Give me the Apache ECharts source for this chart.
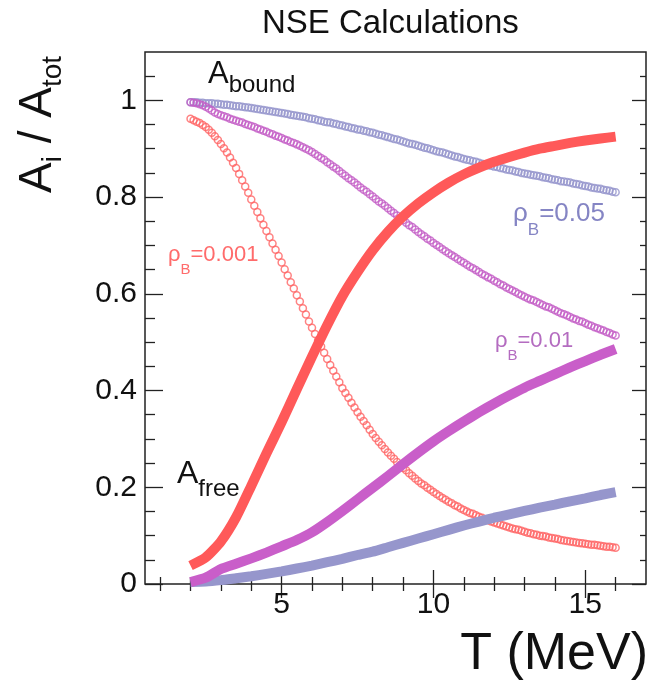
<!DOCTYPE html>
<html>
<head>
<meta charset="utf-8">
<script src="https://cdn.jsdelivr.net/npm/echarts@6/dist/echarts.min.js"></script>
<style>
  html, body { margin: 0; padding: 0; background: #fff; }
  #chart { width: 653px; height: 683px; }
</style>
</head>
<body>
<div id="chart"></div>
<script>
// ---- sampling grids (MeV) ----
const T_START = 2.0;
const BOUND_STEP = 0.1;   // bound-fraction curves, 141 samples
const FREE_STEP = 0.5;    // free-fraction curves, 29 samples

// ---- bound mass fraction A_bound / A_tot ----
const boundRho0001 = [
  0.962,0.959,0.956,0.953,0.949,0.945,
  0.939,0.933,0.926,0.918,0.910,
  0.901,0.892,0.882,0.871,0.860,
  0.848,0.835,0.822,0.809,0.795,
  0.782,0.769,0.756,0.743,0.730,
  0.717,0.704,0.691,0.678,0.665,
  0.651,0.638,0.624,0.611,0.597,
  0.584,0.570,0.557,0.543,0.530,
  0.517,0.504,0.491,0.478,0.465,
  0.453,0.441,0.429,0.417,0.405,
  0.395,0.385,0.375,0.365,0.355,
  0.346,0.337,0.328,0.319,0.310,
  0.302,0.294,0.287,0.279,0.272,
  0.265,0.259,0.252,0.246,0.240,
  0.235,0.229,0.224,0.218,0.213,
  0.208,0.204,0.199,0.195,0.190,
  0.186,0.182,0.178,0.174,0.170,
  0.167,0.163,0.160,0.156,0.153,
  0.150,0.147,0.145,0.142,0.139,
  0.137,0.134,0.132,0.129,0.127,
  0.125,0.123,0.121,0.119,0.117,
  0.115,0.113,0.112,0.110,0.108,
  0.106,0.105,0.103,0.102,0.100,
  0.099,0.098,0.096,0.095,0.094,
  0.093,0.091,0.090,0.089,0.088,
  0.087,0.086,0.085,0.084,0.083,
  0.082,0.081,0.081,0.080,0.079,
  0.078,0.077,0.077,0.076,0.075
];
const boundRho001 = [
  0.996,0.995,0.994,0.992,0.990,0.987,
  0.983,0.979,0.975,0.972,0.969,
  0.967,0.965,0.962,0.960,0.958,
  0.956,0.954,0.951,0.949,0.947,
  0.945,0.942,0.940,0.937,0.935,
  0.932,0.930,0.927,0.925,0.922,
  0.919,0.917,0.914,0.912,0.909,
  0.906,0.903,0.900,0.897,0.893,
  0.889,0.885,0.881,0.877,0.872,
  0.868,0.863,0.859,0.854,0.849,
  0.844,0.839,0.835,0.830,0.825,
  0.820,0.815,0.811,0.806,0.801,
  0.796,0.791,0.787,0.782,0.777,
  0.772,0.767,0.762,0.757,0.752,
  0.747,0.742,0.738,0.733,0.728,
  0.723,0.719,0.714,0.710,0.705,
  0.701,0.697,0.692,0.688,0.684,
  0.680,0.676,0.672,0.668,0.664,
  0.660,0.656,0.653,0.649,0.645,
  0.641,0.638,0.634,0.631,0.627,
  0.624,0.620,0.617,0.613,0.610,
  0.607,0.604,0.600,0.597,0.594,
  0.591,0.588,0.586,0.583,0.580,
  0.577,0.574,0.572,0.569,0.566,
  0.563,0.560,0.558,0.555,0.552,
  0.549,0.547,0.544,0.542,0.539,
  0.536,0.534,0.531,0.529,0.526,
  0.524,0.521,0.519,0.516,0.514
];
const boundRho005 = [
  0.996,0.996,0.996,0.995,0.995,0.994,0.994,0.994,0.993,0.993,0.992,
  0.991,0.991,0.990,0.989,0.988,0.988,0.987,0.986,0.985,0.984,
  0.983,0.982,0.981,0.980,0.979,0.978,0.977,0.976,0.975,0.974,
  0.973,0.972,0.970,0.969,0.968,0.967,0.966,0.965,0.963,0.962,
  0.961,0.959,0.958,0.956,0.955,0.954,0.952,0.951,0.949,0.948,
  0.946,0.945,0.943,0.942,0.940,0.939,0.937,0.936,0.934,0.933,
  0.931,0.929,0.928,0.926,0.924,0.922,0.920,0.919,0.917,0.915,
  0.913,0.911,0.910,0.908,0.906,0.904,0.902,0.901,0.899,0.897,
  0.895,0.893,0.892,0.890,0.888,0.886,0.884,0.883,0.881,0.879,
  0.877,0.876,0.874,0.873,0.871,0.869,0.868,0.866,0.865,0.863,
  0.862,0.860,0.859,0.857,0.856,0.855,0.853,0.852,0.850,0.849,
  0.848,0.846,0.845,0.844,0.843,0.841,0.840,0.839,0.837,0.836,
  0.835,0.833,0.832,0.831,0.830,0.828,0.827,0.826,0.824,0.823,
  0.822,0.820,0.819,0.818,0.817,0.815,0.814,0.813,0.811,0.810
];

// ---- free mass fraction A_free / A_tot ----
const freeRho0001 = [0.038,0.055,0.088,0.138,0.203,0.270,0.335,0.403,0.470,0.535,
  0.595,0.645,0.690,0.728,0.760,0.787,0.810,0.830,0.847,0.861,0.873,0.883,0.892,
  0.900,0.906,0.912,0.917,0.921,0.925];
const freeRho001 = [0.004,0.013,0.031,0.042,0.053,0.065,0.078,0.091,0.107,0.128,
  0.151,0.175,0.199,0.223,0.248,0.272,0.295,0.316,0.336,0.355,0.373,0.390,0.406,
  0.420,0.434,0.448,0.461,0.474,0.486];
const freeRho005 = [0.004,0.005,0.008,0.012,0.016,0.021,0.026,0.032,0.038,0.045,
  0.052,0.060,0.067,0.076,0.085,0.094,0.103,0.112,0.121,0.129,0.137,0.144,0.151,
  0.158,0.164,0.171,0.177,0.184,0.190];

// ---- axis ticks ----
const xMajorTicks = [5, 10, 15];
const xMinorTicks = [1, 2, 3, 4, 6, 7, 8, 9, 11, 12, 13, 14, 16];
const yMajorTicks = [0, 0.2, 0.4, 0.6, 0.8, 1];
const yMinorTicks = [0.05, 0.1, 0.15, 0.25, 0.3, 0.35, 0.45, 0.5, 0.55,
  0.65, 0.7, 0.75, 0.85, 0.9, 0.95, 1.05];

const RED = '#ff5959', PURPLE = '#c95ec9', BLUE = '#9696cc';
const RED_RING = '#ff6464', PURPLE_RING = '#c35cc6', BLUE_RING = '#9494cc';
const FONT = '"Liberation Sans", Arial, sans-serif';
const INK = '#111';

function pairs(start, step, values) {
  return values.map((v, i) => [+(start + i * step).toFixed(2), v]);
}

function xAxisDef(position, ticks, len, withLabels) {
  return {
    type: 'value', position, min: 0.5, max: 17, gridIndex: 0,
    axisLine: { show: false }, splitLine: { show: false },
    axisTick: { show: true, inside: true, length: len, customValues: ticks,
      lineStyle: { color: '#222', width: 1.3 } },
    axisLabel: withLabels
      ? { show: true, customValues: ticks, color: INK, fontSize: 30, fontFamily: FONT, margin: 6 }
      : { show: false }
  };
}
function yAxisDef(position, ticks, len, withLabels) {
  return {
    type: 'value', position, min: 0, max: 1.1, gridIndex: 0,
    axisLine: { show: false }, splitLine: { show: false },
    axisTick: { show: true, inside: true, length: len, customValues: ticks,
      lineStyle: { color: '#222', width: 1.3 } },
    axisLabel: withLabels
      ? { show: true, customValues: ticks, color: INK, fontSize: 30, fontFamily: FONT, margin: 8,
          formatter: v => String(+v.toFixed(2)) }
      : { show: false }
  };
}

function boundSeries(values, ring) {
  return {
    type: 'scatter', xAxisIndex: 0, yAxisIndex: 0,
    data: pairs(T_START, BOUND_STEP, values),
    symbol: 'circle', symbolSize: 7,
    itemStyle: { color: 'rgba(0,0,0,0)', borderColor: ring, borderWidth: 1.5 },
    silent: true, z: 2
  };
}
function freeSeries(values, color) {
  return {
    type: 'line', xAxisIndex: 0, yAxisIndex: 0,
    data: pairs(T_START, FREE_STEP, values),
    showSymbol: false, symbol: 'none', smooth: 0.2,
    lineStyle: { color, width: 10, cap: 'butt', join: 'round' },
    silent: true, z: 3
  };
}

// text with sub-scripted pieces laid along a common baseline
const measureCtx = document.createElement('canvas').getContext('2d');
function textWidth(str, size) {
  measureCtx.font = size + 'px ' + FONT;
  return measureCtx.measureText(str).width;
}
function scriptText(x, baseline, parts, color, rotation) {
  const children = [];
  let cx = 0;
  for (const [str, size, drop] of parts) {
    children.push({
      type: 'text', x: cx, y: drop - 0.33 * size,
      style: { text: str, font: size + 'px ' + FONT, fill: color,
        textAlign: 'left', textVerticalAlign: 'middle' }
    });
    cx += textWidth(str, size);
  }
  return { type: 'group', x, y: baseline, rotation: rotation || 0, children };
}

const xTitle = 'T (MeV)';
const chart = echarts.init(document.getElementById('chart'), null, { renderer: 'canvas' });
chart.setOption({
  animation: false,
  backgroundColor: '#fff',
  grid: { left: 145, right: 7, top: 52, bottom: 99, show: true,
    borderColor: '#222', borderWidth: 1.5, backgroundColor: 'rgba(0,0,0,0)' },
  xAxis: [
    xAxisDef('bottom', xMajorTicks, 14, true),
    xAxisDef('bottom', xMinorTicks, 7, false),
    xAxisDef('top', xMajorTicks, 14, false),
    xAxisDef('top', xMinorTicks, 7, false)
  ],
  yAxis: [
    yAxisDef('left', yMajorTicks, 18, true),
    yAxisDef('left', yMinorTicks, 10, false),
    yAxisDef('right', yMajorTicks, 14, false),
    yAxisDef('right', yMinorTicks, 6, false)
  ],
  series: [
    boundSeries(boundRho005, BLUE_RING),
    boundSeries(boundRho001, PURPLE_RING),
    boundSeries(boundRho0001, RED_RING),
    freeSeries(freeRho005, BLUE),
    freeSeries(freeRho001, PURPLE),
    freeSeries(freeRho0001, RED)
  ],
  graphic: [
    scriptText(262, 35, [['NSE Calculations', 33, 0]], INK),
    scriptText(648 - textWidth(xTitle, 52), 672, [[xTitle, 52, 0]], INK),
    scriptText(53, 193, [['A', 46, 0], ['i', 28, 10], [' / ', 46, 0], ['A', 46, 0], ['tot', 28, 10]],
      INK, Math.PI / 2),
    scriptText(208, 85, [['A', 31, 0], ['bound', 24, 8]], INK),
    scriptText(177, 485, [['A', 32, 0], ['free', 24, 12]], INK),
    scriptText(168, 262, [['ρ', 22, 0], ['B', 15, 13], ['=0.001', 22, 0]], '#ff6b6b'),
    scriptText(495, 348, [['ρ', 22, 0], ['B', 15, 13], ['=0.01', 22, 0]], '#b46cc0'),
    scriptText(513, 222, [['ρ', 26, 0], ['B', 17, 14], ['=0.05', 26, 0]], '#8585c4')
  ]
});
</script>
</body>
</html>
